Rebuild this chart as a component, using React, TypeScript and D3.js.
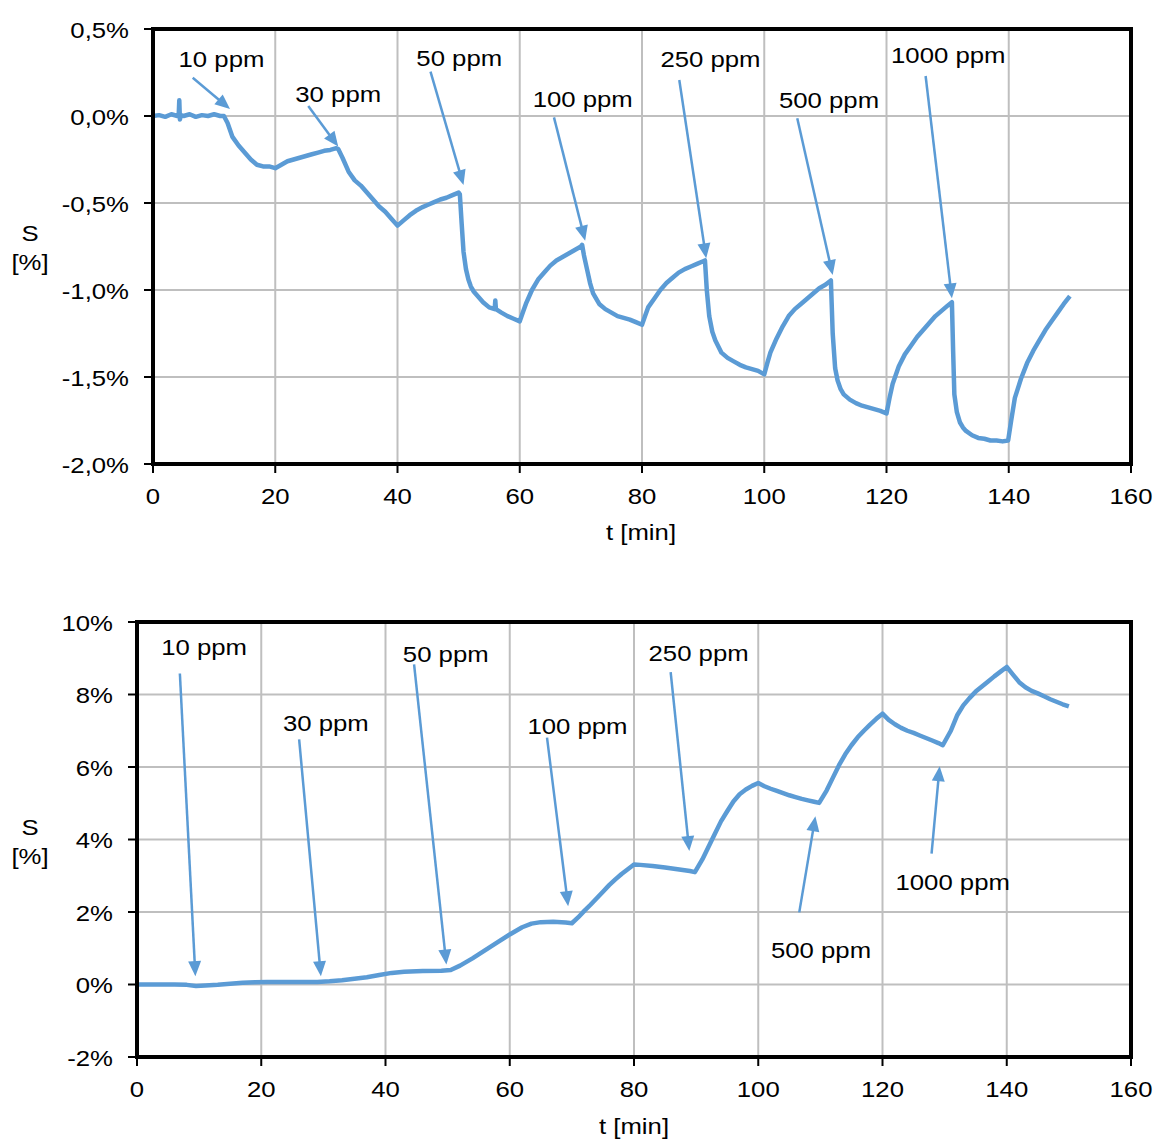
import * as d3 from 'd3';

const FONT = '"Liberation Sans", Arial, sans-serif';
const BLUE = '#5b9bd5';
const SX = 1.17; // the source text is drawn a bit wide

const timeTicks = [0, 20, 40, 60, 80, 100, 120, 140, 160];

// upper panel: S [%] vs t [min]
const topTime = [
  0, 1, 2, 3, 4, 4.2, 4.3, 4.4, 4.6, 5, 6, 7, 8, 9, 10, 11, 11.6, 12.2, 13, 14, 15, 16, 17, 18, 19, 20,
  21, 22, 23, 24, 25, 26, 27, 28, 29, 30, 30.3, 31, 32, 33, 34, 35, 36, 37, 38, 39, 40,
  41, 42, 43, 44, 45, 46, 47, 48, 49, 50, 50.2, 50.5, 50.8, 51.2, 51.6, 52, 52.5, 53, 54, 55, 55.9, 56, 56.1, 57, 58, 59, 60,
  60.5, 61, 62, 63, 64, 65, 66, 67, 68, 69, 70, 70.2, 70.5, 71, 71.5, 72, 73, 74, 75, 76, 77, 78, 79, 80,
  80.5, 81, 82, 83, 84, 85, 86, 87, 88, 89, 90, 90.3, 90.6, 91, 91.5, 92, 93, 94, 95, 96, 97, 98, 99, 100,
  100.5, 101, 102, 103, 104, 105, 106, 107, 108, 109, 110, 110.9, 111.2, 111.6, 112, 112.5, 113, 114, 115, 116, 117, 118, 119, 120,
  120.5, 121, 122, 123, 124, 125, 126, 127, 128, 129, 130, 130.7, 130.9, 131.1, 131.5, 132, 132.5, 133, 134, 135, 136, 137, 138, 139, 139.9,
  140.4, 141, 142, 143, 144, 145, 146, 147, 148, 149, 150,
];
const topS = [
  0, 0.005, -0.005, 0.01, 0, 0, 0.09, -0.02, 0.005, 0, 0.01, -0.005, 0.005, 0, 0.01, 0, 0, -0.04, -0.12, -0.17, -0.21, -0.25, -0.28, -0.29, -0.29, -0.3,
  -0.28, -0.26, -0.25, -0.24, -0.23, -0.22, -0.21, -0.2, -0.195, -0.185, -0.19, -0.24, -0.32, -0.37, -0.4, -0.44, -0.48, -0.52, -0.55, -0.59, -0.63,
  -0.6, -0.57, -0.545, -0.525, -0.51, -0.495, -0.48, -0.47, -0.455, -0.44, -0.45, -0.62, -0.78, -0.88, -0.94, -0.98, -1.01, -1.03, -1.07, -1.1, -1.11, -1.06, -1.11, -1.13, -1.15, -1.165, -1.18,
  -1.13, -1.08, -1.0, -0.94, -0.9, -0.86, -0.83, -0.81, -0.79, -0.77, -0.75, -0.74, -0.8, -0.88, -0.96, -1.02, -1.08, -1.11, -1.13, -1.15, -1.16, -1.17, -1.185, -1.2,
  -1.15, -1.1, -1.05, -1.0, -0.96, -0.93, -0.9, -0.88, -0.865, -0.85, -0.835, -0.83, -1.0, -1.15, -1.24, -1.29, -1.36, -1.39, -1.41, -1.43, -1.445, -1.455, -1.465, -1.485,
  -1.42, -1.36, -1.28, -1.21, -1.15, -1.11, -1.08, -1.05, -1.02, -0.99, -0.97, -0.945, -1.25, -1.45, -1.52, -1.57, -1.6, -1.63, -1.65, -1.665, -1.675, -1.685, -1.695, -1.71,
  -1.62, -1.54, -1.44, -1.37, -1.32, -1.27, -1.23, -1.19, -1.15, -1.12, -1.09, -1.07, -1.35, -1.6, -1.7, -1.76, -1.79, -1.81, -1.835, -1.85, -1.855, -1.865, -1.865, -1.87, -1.865,
  -1.75, -1.62, -1.51, -1.42, -1.35, -1.29, -1.23, -1.18, -1.13, -1.08, -1.035,
];
const topYTicks = [0.5, 0, -0.5, -1, -1.5, -2];

// lower panel
const bottomTime = [
  0, 2, 4, 6, 8, 9.5, 11, 13, 15, 17, 19, 21, 25, 29, 31, 33, 35, 37, 39, 41, 43, 46, 49, 50.5, 52, 54, 56, 58, 60, 62, 63.5, 65, 67, 69,
  70, 71, 72, 73, 74, 75, 76, 77, 78, 79, 80, 81, 83, 85, 87, 89, 89.8,
  91, 92, 93, 94, 95, 96, 97, 98, 99, 100, 101, 102, 103, 104, 105, 106, 107, 108, 109, 109.8,
  111, 112, 113, 114, 115, 116, 117, 118, 119, 120, 121, 122, 123, 124, 125, 126, 127, 128, 129, 129.7,
  131, 132, 133, 134, 135, 136, 137, 138, 139, 140, 141, 142, 143, 144, 145, 146, 147, 148, 149, 150,
];
const bottomS = [
  0, 0, 0, 0, -0.01, -0.04, -0.03, -0.01, 0.02, 0.05, 0.06, 0.07, 0.07, 0.07, 0.09, 0.12, 0.16, 0.2, 0.26, 0.32, 0.35, 0.37, 0.38, 0.4, 0.52, 0.72, 0.94, 1.16, 1.38, 1.58, 1.68, 1.72, 1.73, 1.71,
  1.69, 1.85, 2.03, 2.2, 2.38, 2.56, 2.74, 2.9, 3.05, 3.18, 3.31, 3.3, 3.27, 3.23, 3.18, 3.13, 3.1,
  3.45, 3.8, 4.15, 4.5, 4.78, 5.05, 5.25, 5.38, 5.48, 5.56, 5.47, 5.4, 5.34, 5.28, 5.22, 5.17, 5.12, 5.08, 5.04, 5.01,
  5.35, 5.7, 6.05, 6.35, 6.6, 6.82, 7.0, 7.17, 7.33, 7.47, 7.3, 7.18, 7.08, 7.0, 6.94, 6.87, 6.8, 6.73, 6.66, 6.6,
  7.0, 7.42, 7.7, 7.9, 8.08, 8.22, 8.36, 8.5, 8.63, 8.76, 8.55, 8.34, 8.2, 8.1, 8.03, 7.95, 7.87, 7.8, 7.73, 7.67,
];
const bottomYTicks = [10, 8, 6, 4, 2, 0, -2];

const noteLabels = ['10 ppm', '30 ppm', '50 ppm', '100 ppm', '250 ppm', '500 ppm', '1000 ppm'];
// [label t, label S, arrow tail t, tail S, arrow head t, head S]
const topNotes = [
  [11.2, 0.28, 6.5, 0.22, 12.6, 0.04],
  [30.3, 0.08, 25.4, 0.057, 30.3, -0.176],
  [50.1, 0.287, 45.4, 0.255, 50.8, -0.397],
  [70.3, 0.052, 65.6, -0.008, 70.7, -0.717],
  [91.2, 0.28, 86.1, 0.207, 90.5, -0.818],
  [110.6, 0.046, 105.4, -0.013, 111.2, -0.914],
  [130.1, 0.305, 126.4, 0.23, 130.7, -1.048],
];
const bottomNotes = [
  [10.8, 9.1, 6.9, 8.58, 9.4, 0.23],
  [30.4, 6.98, 26.1, 6.76, 29.6, 0.23],
  [49.7, 8.91, 44.6, 8.83, 49.8, 0.55],
  [70.9, 6.9, 66.0, 6.81, 69.4, 2.16],
  [90.4, 8.92, 85.9, 8.62, 88.9, 3.68],
  [110.1, 0.74, 106.6, 1.99, 109.2, 4.64],
  [131.3, 2.62, 127.9, 3.61, 129.2, 6.02],
];

const Txt = ({ x, y, anchor = 'middle', children }) => (
  <text
    transform={`translate(${x},${y}) scale(${SX},1)`}
    textAnchor={anchor}
    fontSize={22}
    fontFamily={FONT}
    fill="#000"
  >
    {children}
  </text>
);

const Panel = ({ box, yDomain, yTicks, yFmt, time, values, notes, sY, pY, titleX, titleY }) => {
  const x = d3.scaleLinear().domain([0, 160]).range([box.left, box.right]);
  const y = d3.scaleLinear().domain(yDomain).range([box.bottom, box.top]);
  const line = d3.line<number>()
    .x((_, i) => x(time[i]))
    .y((d) => y(d));

  const arrows = notes.map((n, i) => {
    const x1 = x(n[2]), y1 = y(n[3]), x2 = x(n[4]), y2 = y(n[5]);
    const dx = x2 - x1, dy = y2 - y1;
    const len = Math.hypot(dx, dy);
    const ux = dx / len, uy = dy / len;
    const hl = 15, hw = 6.5;
    const bx = x2 - ux * hl, by = y2 - uy * hl;
    const pts = [
      [x2, y2],
      [bx - uy * hw, by + ux * hw],
      [bx + uy * hw, by - ux * hw],
    ].map((p) => p.join(',')).join(' ');
    return (
      <g key={i}>
        <line x1={x1} y1={y1} x2={bx + ux * 2} y2={by + uy * 2} stroke={BLUE} strokeWidth={2.5} />
        <polygon points={pts} fill={BLUE} />
        <Txt x={x(n[0])} y={y(n[1])}>{noteLabels[i]}</Txt>
      </g>
    );
  });

  return (
    <g>
      {timeTicks.map((t) => (
        <line key={'gx' + t} x1={x(t)} x2={x(t)} y1={box.top} y2={box.bottom} stroke="#bfbfbf" strokeWidth={2} />
      ))}
      {yTicks.map((v) => (
        <line key={'gy' + v} x1={box.left} x2={box.right} y1={y(v)} y2={y(v)} stroke="#bfbfbf" strokeWidth={2} />
      ))}
      <path d={line(values) || ''} fill="none" stroke={BLUE} strokeWidth={4.5} strokeLinejoin="round" />
      {arrows}
      <rect
        x={box.left}
        y={box.top}
        width={box.right - box.left}
        height={box.bottom - box.top}
        fill="none"
        stroke="#000"
        strokeWidth={4}
      />
      {yTicks.map((v) => (
        <g key={'ty' + v}>
          <line x1={box.left - 9} x2={box.left} y1={y(v)} y2={y(v)} stroke="#000" strokeWidth={2} />
          <Txt x={box.left - 24} y={y(v) + 8.5} anchor="end">{yFmt(v)}</Txt>
        </g>
      ))}
      {timeTicks.map((t) => (
        <g key={'tx' + t}>
          <line x1={x(t)} x2={x(t)} y1={box.bottom} y2={box.bottom + 9} stroke="#000" strokeWidth={2} />
          <Txt x={x(t)} y={box.bottom + 40}>{t}</Txt>
        </g>
      ))}
      <Txt x={30} y={sY}>S</Txt>
      <Txt x={30} y={pY}>[%]</Txt>
      <Txt x={titleX} y={titleY}>t [min]</Txt>
    </g>
  );
};

export default function App() {
  return (
    <svg width={1156} height={1139} style={{ position: 'absolute', left: 0, top: 0, background: '#fff' }}>
      <rect width={1156} height={1139} fill="#fff" />
      <Panel
        box={{ left: 153, right: 1131, top: 29, bottom: 464 }}
        yDomain={[-2, 0.5]}
        yTicks={topYTicks}
        yFmt={(v) => `${v.toFixed(1).replace('.', ',')}%`}
        time={topTime}
        values={topS}
        notes={topNotes}
        sY={241}
        pY={270}
        titleX={641}
        titleY={540}
      />
      <Panel
        box={{ left: 137, right: 1131, top: 622, bottom: 1057 }}
        yDomain={[-2, 10]}
        yTicks={bottomYTicks}
        yFmt={(v) => `${v}%`}
        time={bottomTime}
        values={bottomS}
        notes={bottomNotes}
        sY={835}
        pY={864}
        titleX={634}
        titleY={1134}
      />
    </svg>
  );
}
